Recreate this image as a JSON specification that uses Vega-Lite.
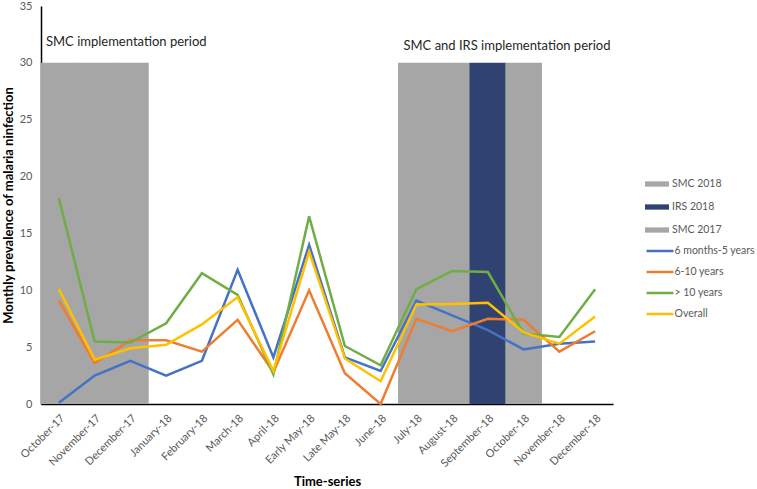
{
  "$schema": "https://vega.github.io/schema/vega-lite/v6.json",
  "width": 572,
  "height": 398,
  "padding": {"left": 2, "top": 0, "right": 0, "bottom": 0},
  "background": "white",
  "config": {
    "view": {"stroke": null},
    "font": "Lato",
    "axis": {"labelFont": "Lato", "titleFont": "Lato", "grid": false, "ticks": false, "labelColor": "#595959", "labelFontSize": 11, "titleFontSize": 13, "titleFontWeight": "bold", "titleColor": "#000000", "domainColor": "#000000", "domainWidth": 1.5, "zindex": 1},
    "legend": {"labelFont": "Lato", "labelFontSize": 10.5, "labelColor": "#595959", "padding": 0}
  },
  "datasets": {
    "periods": [
      {"month": "October-17", "period": "SMC 2017", "top": 30},
      {"month": "November-17", "period": "SMC 2017", "top": 30},
      {"month": "December-17", "period": "SMC 2017", "top": 30},
      {"month": "July-18", "period": "SMC 2018", "top": 30},
      {"month": "August-18", "period": "SMC 2018", "top": 30},
      {"month": "September-18", "period": "IRS 2018", "top": 30},
      {"month": "October-18", "period": "SMC 2018", "top": 30}
    ],
    "series": [
      {"month": "October-17", "group": "6 months-5 years", "value": 0.1},
      {"month": "November-17", "group": "6 months-5 years", "value": 2.5},
      {"month": "December-17", "group": "6 months-5 years", "value": 3.8},
      {"month": "January-18", "group": "6 months-5 years", "value": 2.5},
      {"month": "February-18", "group": "6 months-5 years", "value": 3.8},
      {"month": "March-18", "group": "6 months-5 years", "value": 11.8},
      {"month": "April-18", "group": "6 months-5 years", "value": 4.1},
      {"month": "Early May-18", "group": "6 months-5 years", "value": 14.0},
      {"month": "Late May-18", "group": "6 months-5 years", "value": 4.1},
      {"month": "June-18", "group": "6 months-5 years", "value": 2.9},
      {"month": "July-18", "group": "6 months-5 years", "value": 9.1},
      {"month": "August-18", "group": "6 months-5 years", "value": 7.8},
      {"month": "September-18", "group": "6 months-5 years", "value": 6.5},
      {"month": "October-18", "group": "6 months-5 years", "value": 4.8},
      {"month": "November-18", "group": "6 months-5 years", "value": 5.3},
      {"month": "December-18", "group": "6 months-5 years", "value": 5.5},
      {"month": "October-17", "group": "6-10 years", "value": 9.1},
      {"month": "November-17", "group": "6-10 years", "value": 3.6},
      {"month": "December-17", "group": "6-10 years", "value": 5.6},
      {"month": "January-18", "group": "6-10 years", "value": 5.6},
      {"month": "February-18", "group": "6-10 years", "value": 4.6},
      {"month": "March-18", "group": "6-10 years", "value": 7.4},
      {"month": "April-18", "group": "6-10 years", "value": 2.8},
      {"month": "Early May-18", "group": "6-10 years", "value": 10.0},
      {"month": "Late May-18", "group": "6-10 years", "value": 2.7},
      {"month": "June-18", "group": "6-10 years", "value": 0.0},
      {"month": "July-18", "group": "6-10 years", "value": 7.5},
      {"month": "August-18", "group": "6-10 years", "value": 6.4},
      {"month": "September-18", "group": "6-10 years", "value": 7.5},
      {"month": "October-18", "group": "6-10 years", "value": 7.4},
      {"month": "November-18", "group": "6-10 years", "value": 4.6},
      {"month": "December-18", "group": "6-10 years", "value": 6.4},
      {"month": "October-17", "group": "> 10 years", "value": 18.1},
      {"month": "November-17", "group": "> 10 years", "value": 5.5},
      {"month": "December-17", "group": "> 10 years", "value": 5.4},
      {"month": "January-18", "group": "> 10 years", "value": 7.1},
      {"month": "February-18", "group": "> 10 years", "value": 11.5},
      {"month": "March-18", "group": "> 10 years", "value": 9.6},
      {"month": "April-18", "group": "> 10 years", "value": 2.6},
      {"month": "Early May-18", "group": "> 10 years", "value": 16.5},
      {"month": "Late May-18", "group": "> 10 years", "value": 5.1},
      {"month": "June-18", "group": "> 10 years", "value": 3.4},
      {"month": "July-18", "group": "> 10 years", "value": 10.1},
      {"month": "August-18", "group": "> 10 years", "value": 11.7},
      {"month": "September-18", "group": "> 10 years", "value": 11.6},
      {"month": "October-18", "group": "> 10 years", "value": 6.2},
      {"month": "November-18", "group": "> 10 years", "value": 5.9},
      {"month": "December-18", "group": "> 10 years", "value": 10.1},
      {"month": "October-17", "group": "Overall", "value": 10.1},
      {"month": "November-17", "group": "Overall", "value": 3.9},
      {"month": "December-17", "group": "Overall", "value": 4.9},
      {"month": "January-18", "group": "Overall", "value": 5.2},
      {"month": "February-18", "group": "Overall", "value": 7.0},
      {"month": "March-18", "group": "Overall", "value": 9.4},
      {"month": "April-18", "group": "Overall", "value": 2.9},
      {"month": "Early May-18", "group": "Overall", "value": 13.4},
      {"month": "Late May-18", "group": "Overall", "value": 4.0},
      {"month": "June-18", "group": "Overall", "value": 2.0},
      {"month": "July-18", "group": "Overall", "value": 8.75},
      {"month": "August-18", "group": "Overall", "value": 8.8},
      {"month": "September-18", "group": "Overall", "value": 8.9},
      {"month": "October-18", "group": "Overall", "value": 6.3},
      {"month": "November-18", "group": "Overall", "value": 5.3},
      {"month": "December-18", "group": "Overall", "value": 7.7}
    ],
    "notes": [
      {"month": "October-17", "y": 31.8, "label": "SMC implementation period"},
      {"month": "July-18", "y": 31.5, "label": "SMC and IRS implementation period"}
    ]
  },
  "encoding": {
    "x": {
      "field": "month", "type": "nominal",
      "sort": ["October-17","November-17","December-17","January-18","February-18","March-18","April-18","Early May-18","Late May-18","June-18","July-18","August-18","September-18","October-18","November-18","December-18"],
      "scale": {"domain": ["October-17","November-17","December-17","January-18","February-18","March-18","April-18","Early May-18","Late May-18","June-18","July-18","August-18","September-18","October-18","November-18","December-18"], "paddingInner": 0, "paddingOuter": 0},
      "axis": {"title": "Time-series", "labelAngle": -45, "labelAlign": "right", "labelBaseline": "top", "labelPadding": 8, "titlePadding": 7}
    }
  },
  "layer": [
    {
      "data": {"name": "periods"},
      "mark": {"type": "bar", "stroke": null, "width": {"band": 1.025}},
      "encoding": {
        "y": {"field": "top", "type": "quantitative", "scale": {"domain": [0, 35]}, "stack": null},
        "fill": {
          "field": "period", "type": "nominal",
          "scale": {"domain": ["SMC 2018", "IRS 2018", "SMC 2017"], "range": ["#A6A6A6", "#2F4271", "#A6A6A6"]},
          "legend": {"title": null, "orient": "none", "legendX": 610, "legendY": 172, "symbolType": "M-2,-0.44H2V0.44H-2Z", "symbolSize": 144, "symbolOpacity": 1, "symbolStrokeWidth": 0, "rowPadding": 11, "labelOffset": 9}
        }
      }
    },
    {
      "data": {"name": "series"},
      "mark": {"type": "line", "strokeWidth": 2.5},
      "encoding": {
        "y": {"field": "value", "type": "quantitative", "scale": {"domain": [0, 35]}, "axis": {"title": "Monthly prevalence of malaria ninfection", "values": [0, 5, 10, 15, 20, 25, 30, 35], "labelPadding": 9, "titlePadding": 4}},
        "stroke": {
          "field": "group", "type": "nominal",
          "scale": {"domain": ["6 months-5 years", "6-10 years", "> 10 years", "Overall"], "range": ["#4472C4", "#ED7D31", "#70AD47", "#FFC000"]},
          "legend": {"title": null, "orient": "none", "legendX": 611, "legendY": 237, "symbolType": "M-2,0H2", "symbolSize": 182, "symbolStrokeWidth": 2.5, "symbolFillColor": "transparent", "rowPadding": 7, "labelOffset": 6.5}
        }
      }
    },
    {
      "data": {"name": "notes"},
      "mark": {"type": "text", "align": "left", "baseline": "middle", "fontSize": 13, "color": "#262626", "font": "Lato", "dx": 5},
      "encoding": {
        "x": {"field": "month", "type": "nominal", "bandPosition": 0},
        "y": {"field": "y", "type": "quantitative"},
        "text": {"field": "label"}
      }
    }
  ]
}
